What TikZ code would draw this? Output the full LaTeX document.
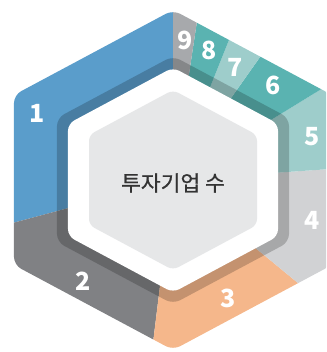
\documentclass[tikz,border=0pt]{standalone}
\usepackage{fontspec}
\setmainfont{Noto Sans}
\newfontfamily\krfont{Noto Sans CJK KR}
\newfontfamily\krtitlefont{Noto Sans CJK KR}[FakeBold=0.8]
\definecolor{cA}{HTML}{5A9DCB}
\definecolor{cB}{HTML}{808184}
\definecolor{cC}{HTML}{F5B78B}
\definecolor{cD}{HTML}{D1D2D4}
\definecolor{cE}{HTML}{9ECDCB}
\definecolor{cF}{HTML}{5AB3B1}
\definecolor{cG}{HTML}{A7A9AC}
\definecolor{innergray}{HTML}{E6E7E8}
\definecolor{titlegray}{HTML}{333333}
\tikzset{
  numlabel/.style={text=white,font=\krfont\bfseries\fontsize{25}{25}\selectfont,inner sep=0pt},
  titlelabel/.style={text=titlegray,font=\krtitlefont\fontsize{21.5}{21.5}\selectfont,inner sep=0pt}
}
\begin{document}
\begin{tikzpicture}[x=1pt,y=1pt]
\useasboundingbox (-173,-172) rectangle (153,180);
\clip (-173,-172) rectangle (153,180);
\begin{scope}
\clip[rounded corners=8pt] (0,170) -- (159,85) -- (159,-85) -- (0,-170) -- (-159,-85) -- (-159,85) -- cycle;
\fill[cA] (0,0) -- (90:400) -- (142:400) -- (195:400) -- cycle;
\fill[cB] (0,0) -- (195:400) -- (229:400) -- (263:400) -- cycle;
\fill[cC] (0,0) -- (263:400) -- (292:400) -- (320.5:400) -- cycle;
\fill[cD] (0,0) -- (320.5:400) -- (342:400) -- (364:400) -- cycle;
\fill[cE] (0,0) -- (4:400) -- (31.5:400) -- cycle;
\fill[cF] (0,0) -- (31.5:400) -- (54.7:400) -- cycle;
\fill[cE] (0,0) -- (54.7:400) -- (68.2:400) -- cycle;
\fill[cF] (0,0) -- (68.2:400) -- (81.4:400) -- cycle;
\fill[cG] (0,0) -- (81.4:400) -- (90:400) -- cycle;
\end{scope}
\fill[black,opacity=0.2,rounded corners=8pt] (0,124) -- (116,62) -- (116,-62) -- (0,-124) -- (-116,-62) -- (-116,62) -- cycle;
\fill[white,rounded corners=7pt] (0,112.5) -- (105,56.25) -- (105,-56.25) -- (0,-112.5) -- (-105,-56.25) -- (-105,56.25) -- cycle;
\fill[innergray,rounded corners=6pt] (0,90) -- (84,45) -- (84,-45) -- (0,-90) -- (-84,-45) -- (-84,45) -- cycle;
\node[titlelabel] (title) at (0,-3) {투자기업 수};
\node[numlabel] (n1) at (-136,67) {1};
\node[numlabel] (n2) at (-90,-101) {2};
\node[numlabel] (n3) at (55,-118) {3};
\node[numlabel] (n4) at (139,-40) {4};
\node[numlabel] (n5) at (139,43) {5};
\node[numlabel] (n6) at (100,95) {6};
\node[numlabel] (n7) at (62,113) {7};
\node[numlabel] (n8) at (36,130) {8};
\node[numlabel] (n9) at (12,140) {9};
\end{tikzpicture}
\end{document}
